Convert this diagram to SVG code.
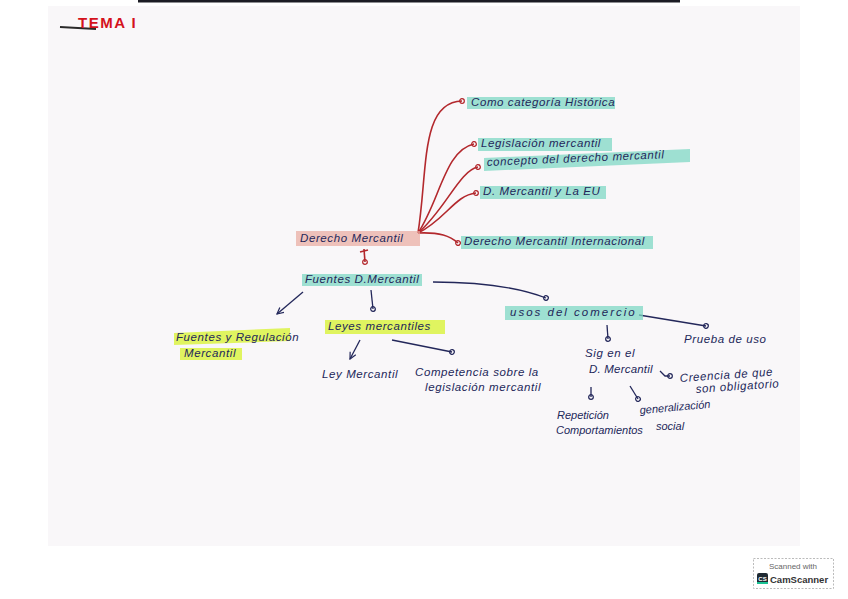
<svg xmlns="http://www.w3.org/2000/svg" width="848" height="599" viewBox="0 0 848 599">
<defs>
<style>
.t{font-family:"Liberation Sans",Arial,sans-serif;font-size:11.5px;fill:#23275a;font-style:italic;letter-spacing:0.6px}
.s{font-size:11px;letter-spacing:0}
.r{stroke:#b3282d;stroke-width:1.6;fill:none}
.b{stroke:#23275a;stroke-width:1.3;fill:none}
.teal{fill:#7fd8c4;opacity:.75}
.yel{fill:#d9f23a;opacity:.8}
.pink{fill:#eaa9a0;opacity:.7}
</style>
<marker id="ro" viewBox="0 0 10 10" refX="5" refY="5" markerWidth="7" markerHeight="7" markerUnits="userSpaceOnUse" orient="auto"><circle cx="5" cy="5" r="3.3" fill="none" stroke="#b3282d" stroke-width="1.8"/></marker>
<marker id="bo" viewBox="0 0 10 10" refX="5" refY="5" markerWidth="7" markerHeight="7" markerUnits="userSpaceOnUse" orient="auto"><circle cx="5" cy="5" r="3.3" fill="none" stroke="#23275a" stroke-width="1.8"/></marker>
<marker id="ba" viewBox="0 0 10 10" refX="9" refY="5" markerWidth="8" markerHeight="8" markerUnits="userSpaceOnUse" orient="auto"><path d="M1,1 L9,5 L1,9" fill="none" stroke="#23275a" stroke-width="1.5"/></marker>
</defs>
<rect width="848" height="599" fill="#ffffff"/>
<rect x="48" y="6" width="752" height="540" fill="#f9f7f9"/>
<line x1="138" y1="1" x2="680" y2="1" stroke="#1c1c24" stroke-width="3"/>
<g id="title">
<line x1="60" y1="27" x2="96" y2="29" stroke="#2a2a2a" stroke-width="2"/>
<text x="78" y="28" font-family="Liberation Sans,Arial,sans-serif" font-size="15" font-weight="bold" letter-spacing="1.5" fill="#d4121c">TEMA I</text>
</g>
<g id="connectors">
<path class="r" d="M418,233 C428,170 420,102 462,101" marker-end="url(#ro)"/>
<path class="r" d="M418,233 C440,200 445,150 474,144" marker-end="url(#ro)"/>
<path class="r" d="M418,233 C445,210 460,170 478,167" marker-end="url(#ro)"/>
<path class="r" d="M418,233 C445,220 455,195 476,193" marker-end="url(#ro)"/>
<path class="r" d="M418,233 C440,232 450,236 458,243" marker-end="url(#ro)"/>
<path class="r" d="M364,249 L365,262" marker-end="url(#ro)"/>
<path class="r" d="M360,252 L368,250"/>
<path class="b" d="M303,292 L277,314" marker-end="url(#ba)"/>
<path class="b" d="M371,290 L373,309" marker-end="url(#bo)"/>
<path class="b" d="M433,282 C480,282 520,288 546,298" marker-end="url(#bo)"/>
<path class="b" d="M360,340 L350,359" marker-end="url(#ba)"/>
<path class="b" d="M392,340 L452,352" marker-end="url(#bo)"/>
<path class="b" d="M607,325 L608,339" marker-end="url(#bo)"/>
<path class="b" d="M639,315 L706,326" marker-end="url(#bo)"/>
<path class="b" d="M660,371 L665,376 L670,376" marker-end="url(#bo)"/>
<path class="b" d="M591,387 L591,397" marker-end="url(#bo)"/>
<path class="b" d="M630,386 L638,399" marker-end="url(#bo)"/>
</g>
<g id="n-derecho">
<rect class="pink" x="296" y="231" width="124" height="15"/>
<text class="t" x="300" y="242">Derecho Mercantil</text>
</g>
<g id="n-historica">
<rect class="teal" x="467" y="97" width="148" height="12"/>
<text class="t" x="471" y="106">Como categoría Histórica</text>
</g>
<g id="n-legislacion">
<rect class="teal" x="478" y="138" width="134" height="13"/>
<text class="t" x="481" y="147">Legislación mercantil</text>
</g>
<g id="n-concepto">
<path class="teal" d="M484,158 L690,149 L690,162 L484,171 Z"/>
<text class="t" x="487" y="166" transform="rotate(-2.5 487 166)">concepto del derecho mercantil</text>
</g>
<g id="n-eu">
<rect class="teal" x="480" y="186" width="126" height="13"/>
<text class="t" x="483" y="195">D. Mercantil y La EU</text>
</g>
<g id="n-internacional">
<rect class="teal" x="461" y="236" width="192" height="13"/>
<text class="t" x="464" y="245">Derecho Mercantil Internacional</text>
</g>
<g id="n-fuentes">
<rect class="teal" x="302" y="274" width="120" height="12"/>
<text class="t" x="305" y="283">Fuentes D.Mercantil</text>
</g>
<g id="n-regulacion">
<path class="yel" d="M174,333 L290,328 L290,341 L174,345 Z"/>
<rect class="yel" x="180" y="348" width="62" height="12"/>
<text class="t" x="176" y="341">Fuentes y Regulación</text>
<text class="t" x="184" y="357">Mercantil</text>
</g>
<g id="n-leyes">
<rect class="yel" x="325" y="320" width="120" height="14"/>
<text class="t" x="328" y="330">Leyes mercantiles</text>
</g>
<g id="n-ley">
<text class="t" x="322" y="378">Ley Mercantil</text>
</g>
<g id="n-competencia">
<text class="t" x="415" y="376">Competencia sobre la</text>
<text class="t" x="425" y="391">legislación mercantil</text>
</g>
<g id="n-usos">
<rect class="teal" x="505" y="306" width="138" height="14"/>
<text class="t" x="510" y="316" style="letter-spacing:2px">usos del comercio</text>
</g>
<g id="n-prueba">
<text class="t" x="684" y="343">Prueba de uso</text>
</g>
<g id="n-sig">
<text class="t" x="585" y="357">Sig en el</text>
<text class="t" x="589" y="373" style="letter-spacing:0.2px">D. Mercantil</text>
</g>
<g id="n-creencia">
<text class="t" x="680" y="382" transform="rotate(-4 680 382)">Creencia de que</text>
<text class="t" x="696" y="393" transform="rotate(-4 696 393)">son obligatorio</text>
</g>
<g id="n-repeticion">
<text class="t s" x="557" y="419">Repetición</text>
<text class="t s" x="556" y="434">Comportamientos</text>
</g>
<g id="n-generalizacion">
<text class="t s" x="640" y="414" transform="rotate(-5 640 414)">generalización</text>
<text class="t s" x="656" y="430">social</text>
</g>
<g id="badge">
<rect x="753.5" y="558.5" width="80" height="30" fill="#ffffff" stroke="#bbbbbb" stroke-dasharray="2,1.5"/>
<text x="793" y="569" text-anchor="middle" font-family="Liberation Sans,Arial,sans-serif" font-size="8" fill="#666">Scanned with</text>
<rect x="757" y="573" width="11" height="11" rx="2" fill="#1f2a33"/>
<rect x="757" y="582" width="11" height="2" fill="#19c293"/>
<text x="762.5" y="581" text-anchor="middle" font-family="Liberation Sans,Arial,sans-serif" font-size="6" font-weight="bold" fill="#fff">CS</text>
<text x="770" y="583" font-family="Liberation Sans,Arial,sans-serif" font-size="9.5" font-weight="bold" fill="#333">CamScanner</text>
</g>
</svg>
